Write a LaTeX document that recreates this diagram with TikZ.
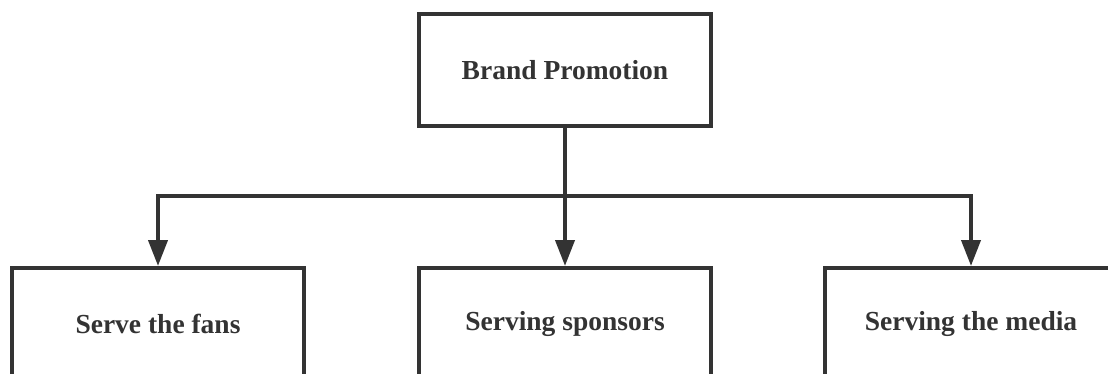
\documentclass[tikz,border=0pt]{standalone}
\usepackage{fontspec}
\setmainfont{Liberation Serif}
\usetikzlibrary{arrows.meta}
\definecolor{ink}{HTML}{333333}
\tikzset{
  box/.style={draw=ink, line width=4pt, minimum width=292pt, minimum height=112pt, inner sep=0pt, font=\fontsize{27.5}{32}\selectfont\bfseries, text=ink},
  arr/.style={draw=ink, line width=4pt, -{Triangle[length=26pt,width=19pt]}},
  link/.style={draw=ink, line width=4pt}
}
\begin{document}
\begin{tikzpicture}[x=1pt,y=-1pt]
\useasboundingbox (0,0) rectangle (1108,374);
\clip (0,0) rectangle (1108,374);
\fill[white] (0,0) rectangle (1108,374);
\node[box] (top) at (565,70) {Brand Promotion};
\node[box] (fans) at (158,324) {Serve the fans};
\node[box] (spon) at (565,324) {Serving sponsors};
\node[box] (media) at (971,324) {Serving the media};
\coordinate (j) at (565,196);
\draw[link] (top.south) -- (j);
\draw[arr] (j) -| (fans.north);
\draw[arr] (j) -- (spon.north);
\draw[arr] (j) -| (media.north);
\end{tikzpicture}
\end{document}
